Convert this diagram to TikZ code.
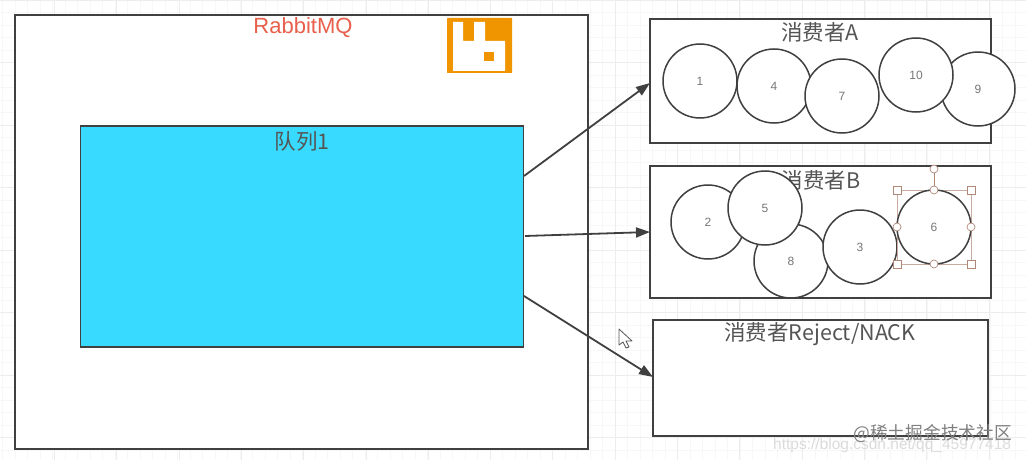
\documentclass[tikz,border=0pt]{standalone}
\usepackage{fontspec}
\setmainfont{Liberation Sans}
\newfontfamily\cjk{Noto Sans CJK SC}
\usetikzlibrary{arrows.meta}
\definecolor{ink}{HTML}{404040}
\definecolor{txt}{HTML}{555555}
\definecolor{numc}{HTML}{777777}
\definecolor{queue}{HTML}{39DAFF}
\definecolor{rabbit}{HTML}{F09400}
\definecolor{handle}{HTML}{B08878}
\definecolor{mqred}{HTML}{E8604C}
\tikzset{
  box/.style={draw=ink,line width=1.7pt,fill=white,inner sep=0pt,anchor=north west},
  ball/.style={circle,draw=ink,line width=1.5pt,fill=white,minimum size=74pt,inner sep=0pt,font=\fontsize{12}{12}\selectfont,text=numc},
  title/.style={font=\cjk\fontsize{21.5}{21.5}\selectfont,text=txt,inner sep=0pt},
  flow/.style={draw=ink,line width=1.8pt,-{Triangle[length=14pt,width=10pt]}},
  hsq/.style={draw=handle,fill=white,line width=.7pt,minimum size=8pt,inner sep=0pt},
  hdot/.style={circle,draw=handle,fill=white,line width=.7pt,minimum size=8pt,inner sep=0pt}
}
\begin{document}
\begin{tikzpicture}[x=1pt,y=-1pt]
\useasboundingbox (0,0) rectangle (1026,460);
\fill[white] (0,0) rectangle (1026,460);
\foreach \i in {0,...,82} \draw[black!3,line width=.4pt] ({\i*12.5-10},0) -- ({\i*12.5-10},460);
\foreach \i in {0,...,37} \draw[black!3,line width=.4pt] (0,{\i*12.5}) -- (1026,{\i*12.5});
\foreach \i in {0,...,17} \draw[black!7,line width=.6pt] ({\i*62.3-8},0) -- ({\i*62.3-8},460);
\foreach \i in {0,...,7} \draw[black!7,line width=.6pt] (0,{\i*62.5}) -- (1026,{\i*62.5});

\node[box,minimum width=573pt,minimum height=434pt] (mq) at (14,14) {};
\node[font=\fontsize{22}{22}\selectfont,text=mqred,inner sep=0pt] (mqt) at (303,28) {RabbitMQ};

% logo
\fill[rabbit,rounded corners=.5pt] (447,18) rectangle (512,73);
\fill[white] (453,22) -- (463,22) -- (463,41) -- (474,41) -- (474,22) -- (485,22) -- (485,41) -- (505,41) -- (505,71) -- (453,71) -- cycle;
\fill[rabbit] (484,52) rectangle (494,61);

\node[box,fill=queue,minimum width=443pt,minimum height=221pt] (q) at (79.5,125) {};
\node[title] (qt) at (302,141) {队列1};

\node[box,minimum width=341pt,minimum height=124pt] (a) at (649,18) {};
\node[box,minimum width=341pt,minimum height=132pt] (b) at (649,165) {};
\node[box,minimum width=335pt,minimum height=116pt] (c) at (652,319) {};

\node[title] (at) at (820,32) {消费者A};
\node[title] (ct) at (820,334) {消费者Reject/NACK};

\node[ball] (n1) at (700,81) {1};
\node[ball] (n4) at (774,86) {4};
\node[ball] (n7) at (842,96) {7};
\node[ball] (n9) at (978,89) {9};
\node[ball] (n10) at (916,75) {10};

\node[title] (bt) at (821,180) {消费者B};
\node[ball] (n2) at (708,222) {2};
\node[ball] (n8) at (791,261) {8};
\node[ball] (n5) at (765,208) {5};
\node[ball] (n3) at (860,247) {3};

% selection frame
\draw[handle!70,line width=.6pt] (897,190) rectangle (971,264);
\draw[handle,line width=.8pt] (934,190) -- (934,169);
\node[ball] (n6) at (934,227) {6};
\foreach \x/\y in {897/190,971/190,897/264,971/264} \node[hsq] at (\x,\y) {};
\foreach \x/\y in {934/190,897/227,971/227,934/264,934/169} \node[hdot] at (\x,\y) {};

\coordinate (qa) at (524,176);
\coordinate (ain) at (650,83);
\coordinate (qb) at (525,236);
\coordinate (bin) at (650,232);
\coordinate (qc) at (524,296);
\coordinate (cin) at (653,377);
\draw[flow] (qa) -- (ain);
\draw[flow] (qb) -- (bin);
\draw[flow] (qc) -- (cin);

% cursor
\draw[draw=txt,fill=white,line width=.8pt,line join=round] (619,329) -- (619,345) -- (623,342) -- (626,348) -- (629,347) -- (626,341) -- (632,341) -- cycle;

% watermark
\node[font=\fontsize{15.5}{15.5}\selectfont,text=black!14,inner sep=0pt,anchor=west] (w1) at (773,445) {https://blog.csdn.net/qq\_45977418};
\node[font=\cjk\fontsize{17.7}{17.7}\selectfont,text=black!50,inner sep=0pt,anchor=east] (w2) at (1012,434) {@稀土掘金技术社区};
\end{tikzpicture}
\end{document}
